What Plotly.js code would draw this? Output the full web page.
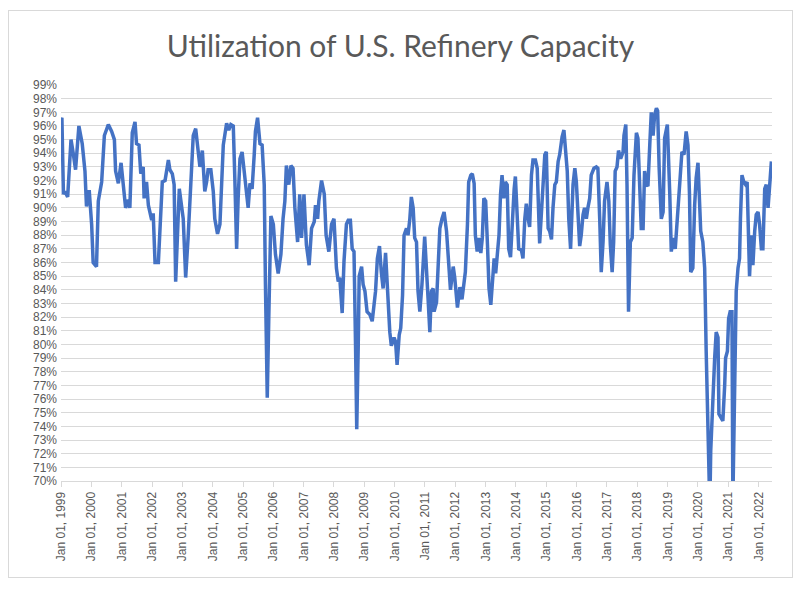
<!DOCTYPE html>
<html>
<head>
<meta charset="utf-8">
<script src="https://cdn.plot.ly/plotly-3.0.1.min.js"></script>
<style>
  html, body { margin: 0; padding: 0; background: #fff; }
  #wrap { position: relative; width: 801px; height: 590px; }
  #chart { width: 801px; height: 590px; }
  #frame { position: absolute; left: 8px; top: 10px; width: 783px; height: 566px; border: 1px solid #d9d9d9; pointer-events: none; }
</style>
</head>
<body>
<div id="wrap"><div id="chart"></div><div id="frame"></div></div>
<script>
// time in decimal years, utilization in percent
const t = [
1999.00,1999.03,1999.08,1999.13,1999.22,1999.33,1999.41,1999.48,1999.59,1999.63,1999.70,1999.79,1999.84,1999.93,
2000.01,2000.06,2000.12,2000.17,2000.23,2000.34,2000.43,2000.56,2000.67,2000.76,2000.80,2000.89,2000.98,
2001.05,2001.13,2001.22,2001.27,2001.35,2001.44,2001.49,2001.57,2001.63,2001.71,2001.74,2001.82,2001.88,2001.99,
2002.04,2002.10,2002.21,2002.29,2002.34,2002.43,2002.48,2002.54,2002.59,2002.67,2002.73,2002.78,2002.84,2002.90,
2003.03,2003.11,2003.19,2003.28,2003.36,2003.44,2003.52,2003.58,2003.66,2003.74,2003.80,2003.85,2003.94,
2004.02,2004.07,2004.16,2004.24,2004.29,2004.35,2004.46,2004.53,2004.60,2004.68,2004.73,2004.79,2004.84,2004.90,2004.97,
2005.06,2005.12,2005.17,2005.23,2005.30,2005.37,2005.41,2005.48,2005.56,2005.63,2005.70,2005.74,2005.80,2005.85,2005.92,
2006.00,2006.07,2006.16,2006.25,2006.32,2006.38,2006.43,2006.51,2006.58,2006.65,2006.71,2006.80,2006.87,2006.93,
2007.01,2007.09,2007.18,2007.26,2007.35,2007.39,2007.46,2007.50,2007.59,2007.68,2007.74,2007.83,2007.92,
2008.00,2008.08,2008.14,2008.19,2008.27,2008.33,2008.41,2008.47,2008.54,2008.60,2008.66,2008.71,2008.75,2008.80,2008.83,2008.91,2008.96,
2009.02,2009.09,2009.18,2009.26,2009.32,2009.37,2009.43,2009.50,2009.56,2009.62,2009.70,2009.76,2009.84,2009.89,2009.98,
2010.03,2010.08,2010.15,2010.20,2010.26,2010.31,2010.39,2010.44,2010.50,2010.55,2010.61,2010.66,2010.72,2010.77,2010.83,2010.90,2010.99,
2011.05,2011.10,2011.16,2011.21,2011.27,2011.30,2011.38,2011.43,2011.49,2011.56,2011.63,2011.71,2011.78,2011.84,2011.93,2011.98,
2012.07,2012.15,2012.22,2012.29,2012.33,2012.40,2012.44,2012.51,2012.56,2012.62,2012.66,2012.72,2012.77,2012.84,2012.89,2012.94,
2013.00,2013.06,2013.11,2013.17,2013.24,2013.28,2013.33,2013.39,2013.44,2013.49,2013.54,2013.60,2013.65,2013.71,2013.76,2013.82,2013.87,2013.94,2013.98,
2014.04,2014.09,2014.18,2014.23,2014.29,2014.34,2014.40,2014.45,2014.51,2014.56,2014.64,2014.70,2014.78,2014.89,2014.95,
2015.00,2015.06,2015.11,2015.17,2015.22,2015.28,2015.33,2015.39,2015.44,2015.52,2015.58,2015.63,2015.69,2015.74,2015.80,2015.88,2015.94,2015.99,
2016.05,2016.10,2016.15,2016.21,2016.26,2016.32,2016.37,2016.43,2016.48,2016.57,2016.65,2016.70,2016.76,2016.81,2016.87,2016.92,
2017.00,2017.06,2017.11,2017.17,2017.22,2017.27,2017.33,2017.38,2017.45,2017.53,2017.56,2017.62,2017.66,2017.71,2017.77,2017.83,2017.89,2017.97,
2018.02,2018.08,2018.13,2018.19,2018.24,2018.30,2018.35,2018.41,2018.46,2018.52,2018.57,2018.63,2018.67,2018.72,2018.79,2018.85,2018.90,2018.99,
2019.03,2019.07,2019.12,2019.18,2019.25,2019.32,2019.36,2019.43,2019.47,2019.54,2019.61,2019.67,2019.72,2019.76,2019.83,2019.89,2019.94,
2020.00,2020.05,2020.09,2020.16,2020.22,2020.27,2020.33,2020.36,2020.39,2020.42,2020.46,2020.49,2020.55,2020.60,2020.66,2020.69,2020.77,2020.82,2020.88,2020.91,2020.97,
2021.01,2021.06,2021.12,2021.15,2021.21,2021.26,2021.32,2021.37,2021.40,2021.45,2021.51,2021.57,2021.62,2021.67,2021.70,2021.76,2021.81,2021.87,2021.92,2021.98,
2022.03,2022.09,2022.14,2022.20,2022.25,2022.31,2022.36,2022.42
];
const utilization = [
96.4,96.6,91.0,91.2,90.8,95.0,93.9,92.8,96.0,95.5,94.7,92.7,90.1,91.3,
88.8,86.0,85.8,85.7,90.5,91.9,95.3,96.1,95.6,95.0,92.7,91.8,93.3,
91.7,90.0,90.6,90.0,95.5,96.3,94.7,94.6,92.5,93.0,90.7,91.9,90.2,89.1,
89.6,86.0,86.0,89.2,91.9,92.0,92.9,93.5,92.8,92.5,91.7,84.6,88.0,91.4,
89.2,84.9,87.8,92.2,95.3,95.8,93.9,93.0,94.2,91.2,91.9,92.8,92.8,
91.2,89.2,88.1,88.8,92.2,94.6,96.2,95.7,96.1,96.0,92.2,87.0,90.7,93.6,94.1,
92.2,90.8,90.0,91.8,91.4,93.9,95.6,96.6,94.7,94.6,91.7,84.4,76.1,81.9,89.4,
88.8,86.6,85.2,86.6,89.2,90.5,93.1,91.7,93.1,92.9,90.0,87.5,91.0,87.8,
91.0,87.3,85.8,88.5,89.0,90.2,89.2,90.5,92.0,91.0,88.0,86.8,88.8,
89.2,85.6,84.6,84.9,82.3,86.1,88.8,89.1,89.1,87.0,86.8,80.0,73.8,80.0,85.0,85.7,84.4,
83.9,82.4,82.2,81.7,82.9,83.9,86.3,87.2,85.3,84.1,86.7,83.9,80.9,79.9,80.5,
80.2,78.5,80.7,81.2,83.6,88.0,88.5,88.0,89.2,90.8,90.0,87.8,87.5,83.9,82.4,84.4,87.9,
85.8,83.4,80.9,83.9,84.1,82.4,83.1,86.3,88.5,89.2,89.7,88.3,85.8,84.0,85.7,84.9,
82.7,84.2,83.3,84.9,85.3,88.8,91.9,92.4,92.5,91.8,88.0,86.8,87.8,86.7,87.8,90.7,
90.5,87.3,84.1,82.9,85.3,86.3,85.2,87.0,88.0,91.0,92.4,90.7,91.9,91.7,87.0,86.4,88.8,91.4,92.3,
89.2,87.0,86.9,86.3,89.2,90.3,89.2,88.6,92.4,93.5,93.5,92.9,87.4,91.7,93.9,
94.1,88.5,88.3,87.7,90.0,91.7,91.9,93.4,93.9,95.2,95.7,94.1,92.7,89.2,87.0,91.7,92.9,91.9,
88.8,87.2,88.0,89.5,90.0,89.2,90.0,90.7,92.4,92.9,93.0,92.9,89.2,85.3,87.5,90.5,
91.9,90.5,87.3,85.3,87.5,92.7,93.0,94.2,93.6,94.1,95.3,96.1,91.7,82.4,87.5,87.8,92.4,95.5,
95.1,91.7,88.5,88.5,92.7,91.7,91.6,94.6,97.0,95.3,96.8,97.3,97.1,92.9,89.2,89.7,95.1,96.1,
94.1,91.0,86.8,87.8,87.0,89.5,90.0,92.7,94.1,93.9,95.6,94.6,91.0,85.3,85.6,90.2,92.2,
93.3,89.7,88.3,87.5,85.6,79.5,72.2,68.0,68.0,72.2,74.6,77.0,79.0,80.9,80.5,74.9,74.6,74.4,77.0,79.0,79.5,
81.9,82.4,82.4,68.5,79.5,83.9,85.6,86.3,89.2,92.4,91.9,91.7,91.9,88.0,85.0,88.0,85.8,88.3,89.5,89.7,
88.8,87.0,87.0,91.4,91.7,90.0,91.7,93.4
];
const tickYears = [1999,2000,2001,2002,2003,2004,2005,2006,2007,2008,2009,2010,2011,2012,2013,2014,2015,2016,2017,2018,2019,2020,2021,2022];
const tickLabels = tickYears.map(y => 'Jan 01, ' + y);
const yTicks = [];
for (let p = 70; p <= 99; p++) yTicks.push(p);

const trace = {
  x: t, y: utilization, type: 'scatter', mode: 'lines',
  line: { color: '#4472C4', width: 3.5, shape: 'linear' },
  hoverinfo: 'skip'
};

const tickFont = { family: 'Liberation Sans, Arial, sans-serif', size: 12, color: '#595959' };

const layout = {
  width: 801, height: 590,
  margin: { l: 61, r: 29, t: 85, b: 109 },
  paper_bgcolor: '#ffffff', plot_bgcolor: '#ffffff',
  showlegend: false,
  title: {
    text: 'Utilization of U.S. Refinery Capacity',
    font: { family: 'Lato, Liberation Sans, sans-serif', size: 30, color: '#595959' },
    x: 0.5, xref: 'container', xanchor: 'center',
    y: 1 - 46/590, yref: 'container', yanchor: 'middle'
  },
  xaxis: {
    range: [1999, 2022.44],
    tickmode: 'array', tickvals: tickYears, ticktext: tickLabels,
    tickangle: -90, tickfont: tickFont,
    ticks: 'outside', ticklen: 5, tickcolor: '#d9d9d9',
    showline: true, linecolor: '#d9d9d9', linewidth: 1,
    showgrid: false, zeroline: false
  },
  yaxis: {
    range: [70, 99],
    tickmode: 'array', tickvals: yTicks, ticktext: yTicks.map(v => v + '%'),
    tickfont: tickFont, ticklabelstandoff: 3,
    showgrid: true, gridcolor: '#d9d9d9', gridwidth: 1,
    showline: false, zeroline: false, ticks: ''
  }
};

Plotly.newPlot('chart', [trace], layout, { displayModeBar: false, staticPlot: true });
</script>
</body>
</html>
